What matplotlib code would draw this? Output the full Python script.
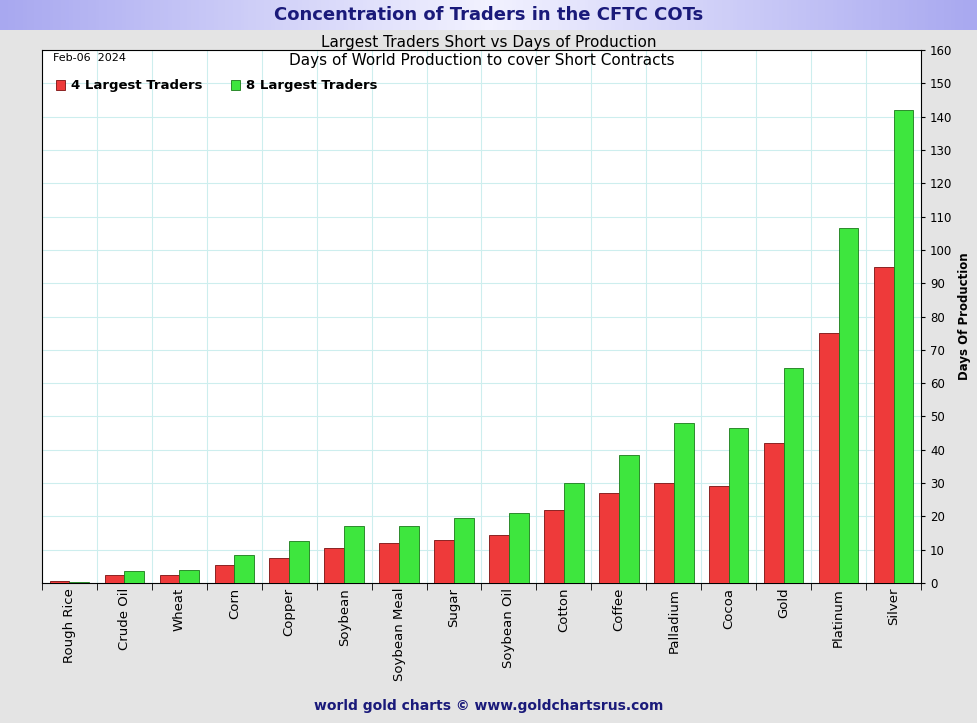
import matplotlib
matplotlib.use("Agg")
import matplotlib.pyplot as plt
import numpy as np

categories = ["Rough Rice","Crude Oil","Wheat","Corn","Copper","Soybean","Soybean Meal","Sugar",
              "Soybean Oil","Cotton","Coffee","Palladium","Cocoa","Gold","Platinum","Silver"]
top4 = [0.5,2.5,2.5,5.5,7.5,10.5,12,13,14.5,22,27,30,29,42,75,95]
top8 = [0.3,3.5,4,8.5,12.5,17,17,19.5,21,30,38.5,48,46.5,64.5,106.5,142]
yticks = list(range(0,161,10))

W,H = 978,723
fig = plt.figure(figsize=(W/100,H/100), dpi=100)
fig.patch.set_facecolor("#e4e4e4")
tb = fig.add_axes([0,1-30/H,1,30/H]); tb.set_axis_off()
grad = np.linspace(0,1,256).reshape(1,-1)
tb.imshow(np.abs(grad-0.5)*2, cmap=matplotlib.colors.LinearSegmentedColormap.from_list("t",["#f2f2ff","#a8a8f0"]),
          aspect="auto", extent=[0,1,0,1])
tb.text(0.5,0.5,"Concentration of Traders in the CFTC COTs",ha="center",va="center",
        fontsize=13,fontweight="bold",color="#1a1a7a",transform=tb.transAxes)

x0,x1,y0,y1 = 42,921,50,583
ax = fig.add_axes([x0/W,1-y1/H,(x1-x0)/W,(y1-y0)/H])
ax.set_facecolor("white")
x = np.arange(len(categories))
bw = 0.36
ax.bar(x-bw/2, top4, bw, color="#ee3a3a", edgecolor="#7a1010", linewidth=0.6, label="4 Largest Traders", zorder=3)
ax.bar(x+bw/2, top8, bw, color="#3ee63e", edgecolor="#1a7a1a", linewidth=0.6, label="8 Largest Traders", zorder=3)
ax.set_xlim(-0.5,len(categories)-0.5)
ax.set_ylim(0,160)
ax.yaxis.tick_right(); ax.yaxis.set_label_position("right")
ax.set_yticks(yticks)
ax.tick_params(axis="y", labelsize=8.5, length=3)
ax.set_ylabel("Days Of Production", fontsize=8.5, fontweight="bold")
ax.set_xticks(x)
ax.set_xticklabels(categories, rotation=90, fontsize=9.5)
ax.set_xticks(np.arange(-0.5,len(categories),1), minor=True)
ax.tick_params(axis="x", which="major", length=0)
ax.tick_params(axis="x", which="minor", length=5)
ax.grid(True, axis="y", color="#cdeeee", linewidth=0.8, zorder=0)
ax.grid(True, axis="x", which="minor", color="#cdeeee", linewidth=0.8, zorder=0)
ax.set_axisbelow(True)
ax.text(0.012,0.995,"Feb-06  2024",transform=ax.transAxes,fontsize=8,va="top")
ax.text(0.5,0.995,"Days of World Production to cover Short Contracts",transform=ax.transAxes,
        fontsize=11,va="top",ha="center")
fig.text(0.5,1-42/H,"Largest Traders Short vs Days of Production",ha="center",va="center",fontsize=11)
ax.legend(loc="upper left", bbox_to_anchor=(0.01,0.955), ncol=2, frameon=False,
          prop={"size":9.5,"weight":"bold"}, handlelength=0.7, handleheight=0.8,
          handletextpad=0.4, columnspacing=2.2, borderaxespad=0)
fig.text(0.5,1-706/H,"world gold charts \u00a9 www.goldchartsrus.com",ha="center",va="center",
         fontsize=10,fontweight="bold",color="#1a1a7a")
fig.savefig("out.png", dpi=100, facecolor=fig.get_facecolor())
